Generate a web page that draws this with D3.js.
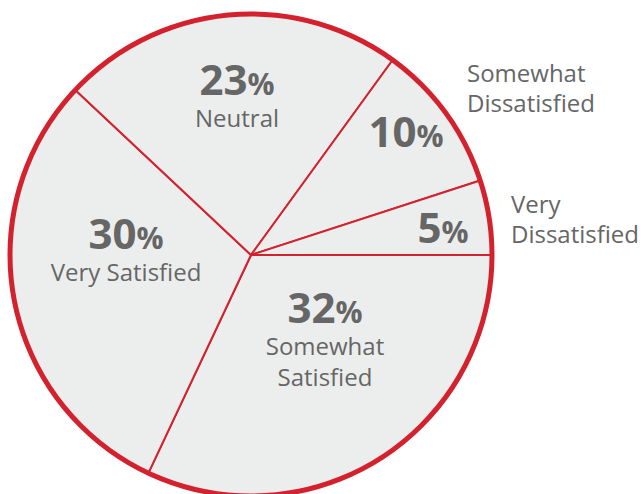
<!DOCTYPE html>
<html><head><meta charset="utf-8">
<script src="https://cdn.jsdelivr.net/npm/d3@7"></script>
<style>
html,body{margin:0;padding:0;background:#fff;}
text{font-family:"Open Sans","Noto Sans",sans-serif;}
</style></head>
<body><svg id="c" width="641" height="494"></svg>
<script>
const categories = ["Somewhat Satisfied","Very Satisfied","Neutral","Somewhat Dissatisfied","Very Dissatisfied"];
const values = [32, 30, 23, 10, 5];
const nameLines = [["Somewhat","Satisfied"],["Very Satisfied"],["Neutral"],["Somewhat","Dissatisfied"],["Very","Dissatisfied"]];
const outside = [false,false,false,true,true];

const cx=251,cy=255,R=241;
// label anchor (polar, degrees clockwise from 12 o'clock) for the % value baseline
const labelR = [100.5, 125.1, 160.6, 188.9, 192.4];
const labelA = [132.6, 272.75, 355, 55.1, 86.4];

const svg=d3.select("#c");
const g=svg.append("g").attr("transform",`translate(${cx},${cy})`);
const data=categories.map((c,i)=>({name:c,value:values[i],i}));
const pie=d3.pie().value(d=>d.value).sort(null).startAngle(Math.PI/2).endAngle(Math.PI/2+2*Math.PI);
const arcs=pie(data);
const arc=d3.arc().innerRadius(0).outerRadius(R);
g.selectAll("path.s").data(arcs).enter().append("path").attr("class","s")
 .attr("d",arc).attr("fill","#eceeed").attr("stroke","#d3222e").attr("stroke-width",2).attr("stroke-linejoin","round");
g.append("circle").attr("r",R).attr("fill","none").attr("stroke","#d3222e").attr("stroke-width",5);

const gray="#666666";
arcs.forEach((a,i)=>{
  const ang=labelA[i]*Math.PI/180, r=labelR[i];
  const x=r*Math.sin(ang), y=-r*Math.cos(ang);
  const t=g.append("text").attr("x",x).attr("y",y).attr("text-anchor","middle").attr("fill",gray);
  t.append("tspan").attr("font-size",42).attr("font-weight",700).text(a.data.value);
  t.append("tspan").attr("font-size",30).attr("font-weight",700).text("%");
  if(!outside[i]){
    nameLines[i].forEach((l,k)=>{
      g.append("text").attr("x",x).attr("y",y+32+31*k).attr("text-anchor","middle")
       .attr("fill",gray).attr("font-size",24).text(l);
    });
  }
});
// outside labels
const outX=[null,null,null,467-cx,511-cx];
const outY=[null,null,null,82-cy,213-cy];
arcs.forEach((a,i)=>{
  if(!outside[i]) return;
  nameLines[i].forEach((l,k)=>{
    g.append("text").attr("x",outX[i]).attr("y",outY[i]+30*k).attr("fill",gray).attr("font-size",24).text(l);
  });
});
</script></body></html>
